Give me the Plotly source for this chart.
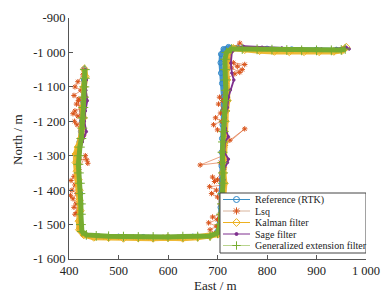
import plotly.graph_objects as go

# ---------------- data ----------------
ref_e = [431, 430, 429, 428, 427, 426, 424, 421, 418, 417, 419, 421, 423, 423, 423, 422, 425, 435, 460, 500, 550, 600, 650, 685, 699, 704, 706, 707, 708, 708, 708, 709, 710, 711, 711, 709, 707, 706, 707, 712, 722, 740, 800, 850, 900, 940, 957]
ref_n = [-1048, -1080, -1110, -1140, -1170, -1200, -1230, -1260, -1290, -1320, -1350, -1380, -1410, -1440, -1470, -1500, -1520, -1531, -1534, -1535, -1536, -1536, -1535, -1533, -1522, -1490, -1450, -1410, -1370, -1330, -1290, -1250, -1210, -1170, -1130, -1090, -1060, -1030, -1005, -990, -984, -986, -989, -991, -992, -992, -989]

lsq_e = [430, 428, 418, 412, 424, 410, 420, 415, 426, 412, 418, 408, 428, 416, 411, 424, 419, 430, 422, 418, 414, 421, 436, 438, 433, 420, 410, 404, 412, 406, 416, 408, 403, 414, 410, 420, 412, 416, 422, 420, 428,
         440, 470, 500, 530, 560, 590, 620, 650, 680,
         694, 685, 698, 682, 700, 690, 705, 712, 706, 700, 688, 698, 684, 712, 700, 690, 694, 708, 714, 706, 665, 711, 712, 716, 755, 725, 714, 700, 692, 708, 696, 706, 712, 702, 710, 704, 716, 718, 720, 735, 750, 740, 755, 732, 745, 728, 722, 718, 728, 745,
         760, 790, 820, 850, 880, 910, 940, 955]
lsq_n = [-1050, -1065, -1085, -1100, -1110, -1125, -1135, -1150, -1160, -1170, -1185, -1178, -1195, -1210, -1200, -1225, -1140, -1240, -1260, -1280, -1295, -1310, -1312, -1322, -1300, -1340, -1360, -1372, -1385, -1400, -1410, -1425, -1415, -1440, -1450, -1455, -1470, -1465, -1490, -1510, -1528,
         -1534, -1536, -1537, -1536, -1538, -1537, -1537, -1536, -1534,
         -1526, -1515, -1505, -1495, -1485, -1478, -1470, -1455, -1440, -1420, -1410, -1400, -1390, -1385, -1370, -1362, -1375, -1350, -1335, -1320, -1327, -1300, -1284, -1270, -1222, -1255, -1240, -1225, -1210, -1200, -1190, -1176, -1165, -1150, -1140, -1130, -1115, -1090, -1075, -1062, -1050, -1040, -1035, -1030, -1058, -1045, -1020, -1005, -990, -973,
         -990, -992, -994, -995, -995, -996, -994, -990]

kal_e = [431, 433, 430, 431, 428, 429, 426, 424, 418, 414, 414, 416, 419, 421, 421, 423, 420, 421, 430, 450, 480, 510, 540, 570, 600, 630, 660, 685, 701, 707, 709, 712, 711, 714, 712, 713, 711, 714, 714, 716, 717, 720, 719, 719, 718, 720, 722, 732, 755, 785, 815, 845, 875, 905, 935, 952, 960]
kal_n = [-1048, -1070, -1100, -1130, -1160, -1190, -1220, -1250, -1275, -1295, -1320, -1345, -1370, -1400, -1430, -1460, -1490, -1515, -1530, -1537, -1538, -1540, -1539, -1540, -1538, -1540, -1537, -1534, -1528, -1500, -1470, -1440, -1410, -1380, -1350, -1320, -1290, -1260, -1230, -1200, -1170, -1140, -1110, -1080, -1050, -1020, -1000, -988, -992, -995, -997, -998, -998, -998, -997, -994, -985]

sage_e = [433, 435, 434, 437, 433, 431, 435, 427, 422, 420, 421, 423, 424, 425, 425, 424, 427, 440, 470, 510, 560, 610, 660, 690, 703, 708, 710, 711, 712, 713, 713, 720, 722, 714, 715, 722, 716, 716, 720, 722, 726, 733, 729, 727, 729, 740, 752, 790, 830, 870, 910, 940, 960, 966]
sage_n = [-1050, -1080, -1110, -1140, -1170, -1200, -1230, -1260, -1290, -1320, -1350, -1380, -1410, -1440, -1470, -1500, -1522, -1531, -1533, -1534, -1535, -1535, -1534, -1531, -1520, -1490, -1460, -1430, -1400, -1370, -1340, -1320, -1310, -1290, -1260, -1245, -1220, -1190, -1160, -1130, -1109, -1080, -1060, -1031, -999, -987, -982, -985, -987, -989, -990, -990, -985, -990]

gef_e = [432, 432, 431, 430, 429, 428, 427, 425, 422, 420, 419, 420, 422, 423, 424, 424, 424, 426, 435, 455, 480, 510, 540, 570, 600, 630, 660, 685, 700, 705, 707, 709, 710, 711, 711, 710, 710, 711, 712, 713, 715, 717, 717, 716, 715, 715, 718, 728, 750, 780, 810, 840, 870, 900, 930, 950, 958]
gef_n = [-1050, -1075, -1100, -1130, -1160, -1190, -1220, -1250, -1275, -1300, -1325, -1350, -1380, -1410, -1440, -1470, -1500, -1520, -1530, -1533, -1534, -1535, -1536, -1536, -1536, -1535, -1535, -1533, -1525, -1500, -1470, -1440, -1410, -1380, -1350, -1320, -1290, -1260, -1230, -1200, -1170, -1140, -1110, -1080, -1050, -1020, -1000, -990, -990, -991, -992, -993, -994, -994, -994, -993, -990]

series_names = ["Reference (RTK)", "Lsq", "Kalman filter", "Sage filter", "Generalized extension filter"]

x_ticks = [400, 500, 600, 700, 800, 900, 1000]
x_tick_text = ["400", "500", "600", "700", "800", "900", "1 000"]
y_ticks = [-900, -1000, -1100, -1200, -1300, -1400, -1500, -1600]
y_tick_text = ["-900", "-1 000", "-1 100", "-1 200", "-1 300", "-1 400", "-1 500", "-1 600"]

# ---------------- figure ----------------
FONT = "\"Liberation Serif\", \"Times New Roman\", Times, serif"
OFF = 8                      # page body margin of the html page
W, H = 389 - OFF, 303 - OFF
ML, MR, MT, MB = 69 - OFF, 23, 18 - OFF, 44
PW, PH = W - ML - MR, H - MT - MB


def px_x(px):
    return (px - OFF - ML) / PW


def px_y(py):
    return (H - MB - (py - OFF)) / PH


fig = go.Figure()

styles = [
    dict(x=ref_e, y=ref_n, color="#2E86C8", lw=4, lcol="rgba(46,134,200,0.9)", sym="circle-open", ms=5),
    dict(x=lsq_e, y=lsq_n, color="#D95319", lw=1, lcol="rgba(217,83,25,0.55)", sym="asterisk-open", ms=4.5),
    dict(x=kal_e, y=kal_n, color="#EDB120", lw=6, lcol="rgba(237,177,32,0.9)", sym="diamond-open", ms=6),
    dict(x=sage_e, y=sage_n, color="#7E2F8E", lw=1.8, lcol="#7E2F8E", sym="circle", ms=2.5),
    dict(x=gef_e, y=gef_n, color="#77AC30", lw=5, lcol="#77AC30", sym="cross-thin-open", ms=7),
]
legend_line = ["#3B8FC4", "#D8B49C", "#EDB120", "#7E2F8E", "#B9D48E"]

for name, st in zip(series_names, styles):
    fig.add_trace(go.Scatter(
        x=st["x"], y=st["y"], mode="lines+markers", name=name, showlegend=False,
        line=dict(color=st["lcol"], width=st["lw"]),
        marker=dict(symbol=st["sym"], size=st["ms"], color=st["color"],
                    line=dict(color=st["color"], width=1)),
    ))

# ---- compact legend drawn on an overlay axis in paper units ----
bx0, bx1, by0, by1 = px_x(220), px_x(366), px_y(253), px_y(193)
fig.add_trace(go.Scatter(x=[bx0, bx1, bx1, bx0, bx0], y=[by0, by0, by1, by1, by0],
                         xaxis="x2", yaxis="y2", mode="lines", fill="toself",
                         fillcolor="white", line=dict(color="#444", width=1),
                         hoverinfo="skip", showlegend=False))
for i, (name, st, lc) in enumerate(zip(series_names, styles, legend_line)):
    ry = px_y(199.5 + i * 11.5)
    fig.add_trace(go.Scatter(x=[px_x(223), px_x(250)], y=[ry, ry], xaxis="x2", yaxis="y2",
                             mode="lines", line=dict(color=lc, width=1),
                             hoverinfo="skip", showlegend=False))
    fig.add_trace(go.Scatter(x=[px_x(236.5)], y=[ry], xaxis="x2", yaxis="y2", mode="markers",
                             marker=dict(symbol=st["sym"], size=6 if st["sym"] != "circle" else 3,
                                         color=st["color"], line=dict(color=st["color"], width=1)),
                             hoverinfo="skip", showlegend=False))
    fig.add_annotation(x=px_x(252.5), y=ry, xref="paper", yref="paper", text=name,
                       showarrow=False, xanchor="left", yanchor="middle",
                       font=dict(family=FONT, size=10, color="#222"))

# axis titles
fig.add_annotation(x=px_x(17), y=px_y(140), xref="paper", yref="paper", text="North / m",
                   textangle=-90, showarrow=False, xanchor="center", yanchor="middle",
                   font=dict(family=FONT, size=13, color="#222"))
fig.add_annotation(x=px_x(215), y=px_y(285), xref="paper", yref="paper", text="East / m",
                   showarrow=False, xanchor="center", yanchor="middle",
                   font=dict(family=FONT, size=13, color="#222"))

fig.update_layout(
    width=W, height=H,
    margin=dict(l=ML, r=MR, t=MT, b=MB),
    paper_bgcolor="white", plot_bgcolor="white",
    font=dict(family=FONT, size=12, color="#222"),
    showlegend=False,
    xaxis2=dict(overlaying="x", anchor="y2", range=[0, 1], visible=False, fixedrange=True),
    yaxis2=dict(overlaying="y", anchor="x2", range=[0, 1], visible=False, fixedrange=True),
)
fig.layout.xaxis.update(range=[400, 1000], tickmode="array", tickvals=x_ticks, ticktext=x_tick_text,
                        showline=True, linecolor="#555", linewidth=1, ticks="inside", ticklen=4,
                        tickcolor="#555", showgrid=False, zeroline=False, automargin=False,
                        tickfont=dict(family=FONT, size=12.5, color="#222"))
fig.layout.yaxis.update(range=[-1600, -900], tickmode="array", tickvals=y_ticks, ticktext=y_tick_text,
                        showline=True, linecolor="#555", linewidth=1, ticks="inside", ticklen=4,
                        tickcolor="#555", showgrid=False, zeroline=False, automargin=False,
                        tickfont=dict(family=FONT, size=12.5, color="#222"))

fig.write_html("out.html")
